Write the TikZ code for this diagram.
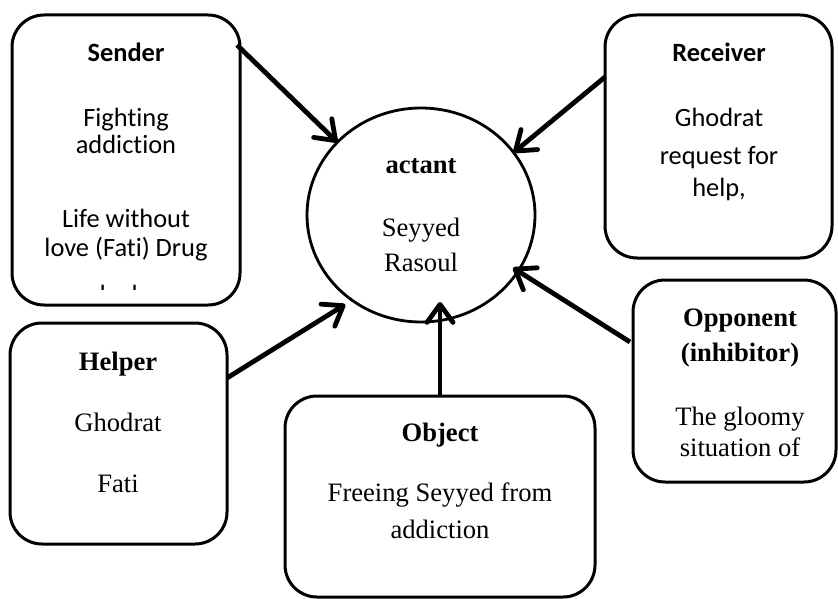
\documentclass[tikz,border=0pt]{standalone}
\usepackage{fontspec}
\setmainfont{Liberation Serif}
\newfontfamily\calibri[Ligatures=NoCommon]{Carlito}
\usetikzlibrary{arrows.meta, shapes.geometric}
\begin{document}
\begin{tikzpicture}[x=0.5pt, y=-0.5pt,
        caja/.style={draw, line width=1.5pt, rounded corners=16pt, inner sep=0pt, outer sep=0pt},
        actante/.style={draw, ellipse, line width=1.4pt, inner sep=0pt, outer sep=0pt,
        minimum width=114pt, minimum height=107pt},
        texto/.style={align=center, anchor=base, inner sep=0pt, font=\fontsize{13.3}{17.5}\selectfont},
        textosans/.style={texto, font=\calibri\fontsize{13.2}{13.5}\selectfont},
        flecha/.style={line width=2.4pt, -{Straight Barb[length=9pt, width=13pt, line width=2.4pt, round]}}
    ]
        \useasboundingbox (0,0) rectangle (838,598);
        % cajas
        \node[caja, minimum width=114pt, minimum height=145pt] (sender) at (126,160) {};
        \node[caja, minimum width=113.5pt, minimum height=121.5pt] (receiver) at (718.5,136.5) {};
        \node[actante] (actant) at (421,215) {};
        \node[caja, minimum width=108.5pt, minimum height=110.5pt] (helper) at (118.5,433.5) {};
        \node[caja, minimum width=155pt, minimum height=100.5pt] (object) at (440,496.5) {};
        \node[caja, minimum width=101.5pt, minimum height=101pt] (opponent) at (734.5,381) {};
        % textos (base = ultima linea)
        \begin{scope}
            \clip (12,15) rectangle (240,289);
            \node[textosans] (senderTxt) at (126,303.7) {\textbf{Sender}\\[19pt]Fighting\\addiction\\[23.5pt]Life without\\[1pt]love (Fati) Drug\\[10pt]dealer};
        \end{scope}
        \node[textosans] (receiverTxt) at (719,196.7) {\textbf{Receiver}\\[19pt]Ghodrat\\[5.5pt]request for\\[2.5pt]help,};
        \node[texto] (actantTxt) at (421,271) {\textbf{actant}\\[13.7pt]Seyyed\\Rasoul};
        \node[texto] (helperTxt) at (118,492.7) {\textbf{Helper}\\[13.3pt]Ghodrat\\[13pt]Fati};
        \node[texto] (objectTxt) at (440,538.3) {\textbf{Object}\\[12.5pt]Freeing Seyyed from\\[0.8pt]addiction};
        \node[texto] (opponentTxt) at (740,456.7) {\textbf{Opponent}\\\textbf{(inhibitor)}\\[14.2pt]The gloomy\\[-1.7pt]situation of};
        % flechas
        \draw[flecha] ([xshift=-1.5pt, yshift=-15pt]sender.north east) -- (actant.139);
        \draw[flecha] ([yshift=29.75pt]receiver.west) -- (actant.34);
        \draw[flecha, shorten >=4pt] ([yshift=27.75pt]helper.east) -- (actant.231.6);
        \draw[flecha, shorten >=-10pt] (object.north) -- (object.north |- actant.south);
        \draw[flecha, shorten >=-3pt] ([xshift=-1.5pt, yshift=19.5pt]opponent.west) -- (actant.330);
    \end{tikzpicture}
\end{document}
